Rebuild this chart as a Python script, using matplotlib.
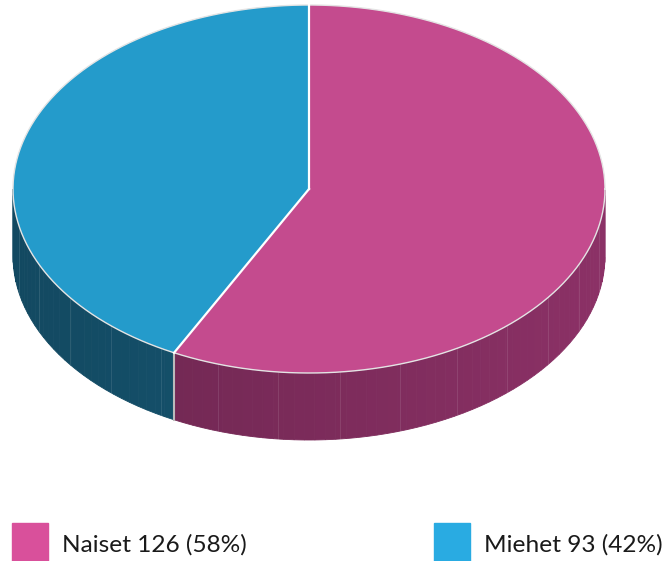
import numpy as np
import matplotlib.pyplot as plt
from matplotlib.colors import to_rgb

labels = ['Naiset', 'Miehet']
values = [126, 93]
top_colors = ['#C44B8E', '#249BCB']
side_colors = ['#862F62', '#175B79']
legend_colors = ['#D9509B', '#29ABE2']

# ellipse geometry in pixels
cx, cy, rx, ry, depth = 309, 189, 296, 184, 67

fig = plt.figure(figsize=(6.72, 5.61), dpi=100)
ax = fig.add_axes([0, 0, 1, 1])
ax.set_xlim(0, 672)
ax.set_ylim(561, 0)
ax.axis('off')

total = sum(values)
angles = [-90.0]
for v in values:
    angles.append(angles[-1] + 360.0 * v / total)


def pt(t, dy=0.0):
    r = np.radians(t)
    return cx + rx * np.cos(r), cy + ry * np.sin(r) + dy


def shade(c, f):
    c = np.array(to_rgb(c))
    return tuple(np.clip(c * f, 0, 1))


# side walls (front half only, t in [0, 180])
for i in range(len(values)):
    a, b = angles[i], angles[i + 1]
    for off in (-360, 0, 360):
        lo, hi = max(a + off, 0), min(b + off, 180)
        if hi <= lo:
            continue
        edges = np.linspace(lo, hi, max(2, int((hi - lo) / 2) + 1))
        for t0, t1 in zip(edges[:-1], edges[1:]):
            tm = np.radians((t0 + t1) / 2)
            f = 0.92 + 0.12 * np.cos(tm)
            ts = np.linspace(t0, t1, 4)
            xs_top, ys_top = pt(ts)
            xs_bot, ys_bot = pt(ts[::-1], depth)
            ax.fill(np.r_[xs_top, xs_bot], np.r_[ys_top, ys_bot],
                    color=shade(side_colors[i], f), lw=0.6,
                    ec=shade(side_colors[i], f), zorder=1)
        # faint facet lines
        for t in np.arange(np.ceil(lo / 12) * 12, hi, 12):
            x0, y0 = pt(t)
            x1, y1 = pt(t, depth)
            ax.plot([x0, x1], [y0, y1], color='white', alpha=0.1,
                    lw=0.8, zorder=2)

# vertical edge at the slice boundary on the front
for t in angles:
    tt = t % 360
    if 0 < tt < 180:
        x0, y0 = pt(tt)
        x1, y1 = pt(tt, depth)
        ax.plot([x0, x1], [y0, y1], color='#BBBBBB', lw=1.5, zorder=3)

# top faces
for i in range(len(values)):
    ts = np.linspace(angles[i], angles[i + 1], 200)
    xs, ys = pt(ts)
    ax.fill(np.r_[cx, xs], np.r_[cy, ys], color=top_colors[i],
            ec='none', zorder=4)

# top outline and slice borders
ts = np.linspace(0, 360, 400)
xs, ys = pt(ts)
ax.plot(xs, ys, color='#E4E4E4', lw=1.0, zorder=5)
for t in angles[:-1]:
    x, y = pt(t)
    ax.plot([cx, x], [cy, y], color='white', lw=1.6, zorder=6)

# legend
leg_x = [12, 434]
for i in range(len(values)):
    pct = round(100 * values[i] / total)
    ax.add_patch(plt.Rectangle((leg_x[i], 523), 36, 38,
                               color=legend_colors[i], zorder=7))
    ax.text(leg_x[i] + 50, 545, f'{labels[i]} {values[i]} ({pct}%)',
            fontsize=17.6, family='Lato', color='#1A1A1A',
            va='center', ha='left', zorder=7)

fig.savefig('out.png', dpi=100)
